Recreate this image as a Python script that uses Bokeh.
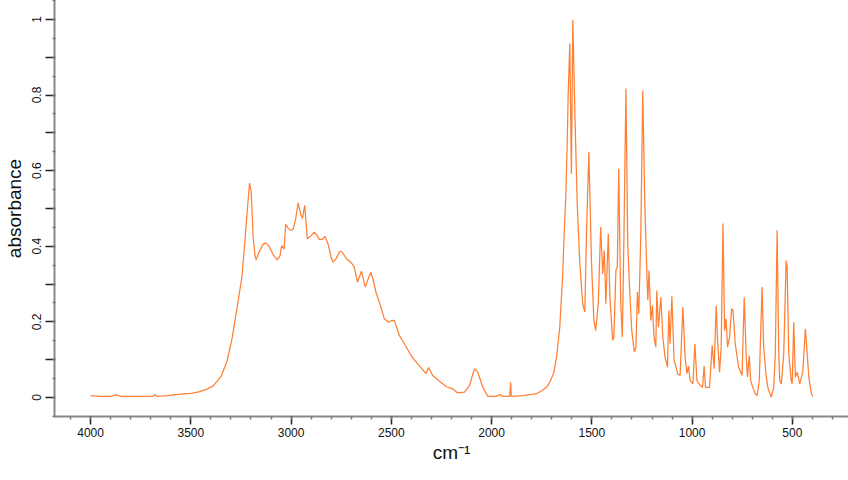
from bokeh.plotting import figure
from bokeh.models import Range1d, FixedTicker, ColumnDataSource
from bokeh.embed import file_html
from bokeh.resources import INLINE

wavenumber = [4000, 3950, 3900, 3870, 3850, 3750, 3690, 3680, 3670, 3620, 3560, 3500, 3460, 3420,
              3390, 3350, 3320, 3295, 3270, 3245, 3228, 3214, 3207, 3199, 3189, 3180, 3174, 3160,
              3140, 3127, 3110, 3090, 3069, 3055, 3047, 3035, 3027, 3015, 3002, 2990, 2978, 2965,
              2955, 2944, 2932, 2919, 2900, 2885, 2872, 2860, 2845, 2830, 2815, 2800, 2790, 2775,
              2757, 2744, 2724, 2702, 2685, 2669, 2649, 2630, 2615, 2602, 2590, 2577, 2552, 2535,
              2514, 2500, 2485, 2460, 2435, 2402, 2369, 2327, 2314, 2294, 2260, 2227, 2194, 2169,
              2135, 2110, 2095, 2085, 2069, 2044, 2019, 1977, 1960, 1944, 1910, 1905, 1902, 1844,
              1800, 1777, 1750, 1727, 1710, 1690, 1676, 1660, 1646, 1640, 1630, 1623, 1618, 1610,
              1602, 1595, 1585, 1573, 1560, 1546, 1535, 1526, 1515, 1502, 1490, 1481, 1468, 1456,
              1446, 1438, 1430, 1418, 1410, 1396, 1390, 1380, 1373, 1366, 1356, 1348, 1340, 1330,
              1321, 1313, 1301, 1288, 1280, 1273, 1266, 1256, 1246, 1236, 1226, 1221, 1215, 1206,
              1198, 1190, 1181, 1176, 1168, 1156, 1146, 1135, 1123, 1116, 1110, 1101, 1090, 1080,
              1073, 1060, 1046, 1035, 1026, 1018, 1010, 996, 986, 976, 960, 948, 940, 933, 913,
              900, 890, 880, 873, 863, 855, 846, 838, 831, 823, 813, 803, 796, 785, 768, 751, 740,
              730, 724, 715, 708, 701, 685, 676, 665, 651, 643, 631, 621, 605, 593, 585, 576, 568,
              563, 555, 543, 531, 526, 518, 506, 501, 493, 485, 476, 463, 448, 435, 426, 418, 405,
              398]
absorbance = [0.005, 0.003, 0.003, 0.007, 0.003, 0.003, 0.003, 0.008, 0.003, 0.005, 0.008, 0.011,
              0.015, 0.022, 0.030, 0.055, 0.095, 0.155, 0.235, 0.320, 0.430, 0.525, 0.567, 0.545,
              0.424, 0.375, 0.364, 0.385, 0.405, 0.409, 0.400, 0.378, 0.364, 0.375, 0.402, 0.392,
              0.458, 0.448, 0.442, 0.445, 0.470, 0.515, 0.490, 0.473, 0.508, 0.420, 0.428, 0.437,
              0.430, 0.418, 0.418, 0.426, 0.405, 0.370, 0.358, 0.368, 0.387, 0.384, 0.367, 0.358,
              0.345, 0.305, 0.334, 0.292, 0.315, 0.331, 0.310, 0.279, 0.239, 0.208, 0.199, 0.203,
              0.204, 0.164, 0.142, 0.111, 0.089, 0.063, 0.079, 0.058, 0.043, 0.029, 0.023, 0.012,
              0.014, 0.032, 0.060, 0.076, 0.067, 0.027, 0.003, 0.003, 0.008, 0.003, 0.003, 0.040,
              0.003, 0.005, 0.008, 0.010, 0.018, 0.027, 0.040, 0.065, 0.107, 0.186, 0.318, 0.407,
              0.530, 0.671, 0.803, 0.936, 0.592, 0.999, 0.759, 0.512, 0.354, 0.248, 0.226, 0.451,
              0.649, 0.362, 0.204, 0.177, 0.248, 0.451, 0.327, 0.389, 0.248, 0.433, 0.265, 0.151,
              0.160, 0.336, 0.345, 0.605, 0.248, 0.160, 0.424, 0.817, 0.407, 0.301, 0.177, 0.120,
              0.133, 0.279, 0.221, 0.424, 0.812, 0.512, 0.336, 0.257, 0.336, 0.204, 0.243, 0.160,
              0.133, 0.283, 0.186, 0.265, 0.160, 0.107, 0.080, 0.230, 0.142, 0.268, 0.100, 0.080,
              0.063, 0.058, 0.239, 0.107, 0.063, 0.083, 0.045, 0.036, 0.142, 0.045, 0.032, 0.027,
              0.083, 0.027, 0.027, 0.138, 0.076, 0.243, 0.151, 0.067, 0.133, 0.460, 0.177, 0.208,
              0.133, 0.160, 0.235, 0.230, 0.142, 0.080, 0.058, 0.265, 0.107, 0.054, 0.111, 0.045,
              0.032, 0.010, 0.005, 0.045, 0.292, 0.133, 0.058, 0.023, 0.001, 0.027, 0.116, 0.442,
              0.124, 0.045, 0.036, 0.116, 0.362, 0.345, 0.116, 0.045, 0.036, 0.199, 0.054, 0.067,
              0.036, 0.067, 0.182, 0.116, 0.054, 0.010, 0.003]

x_major = [4000, 3500, 3000, 2500, 2000, 1500, 1000, 500]
x_minor = list(range(200, 4300, 100))
y_major = [0.0, 0.1, 0.2, 0.3, 0.4, 0.5, 0.6, 0.7, 0.8, 0.9, 1.0]
y_labels = {0.0: "0", 0.2: "0.2", 0.4: "0.4", 0.6: "0.6", 0.8: "0.8", 1.0: "1"}
y_minor = [-0.05 + 0.05 * i for i in range(23)]

src = ColumnDataSource(dict(x=wavenumber, y=absorbance))

p = figure(width=848, height=480, output_backend="svg", toolbar_location=None,
           x_range=Range1d(4180, 220), y_range=Range1d(-0.0503, 1.050),
           min_border_left=54, min_border_right=0, min_border_top=0, min_border_bottom=64)
p.outline_line_color = None
p.xgrid.visible = False
p.ygrid.visible = False

p.line("x", "y", source=src, line_color="#ff6a10", line_width=1.25, line_alpha=0.85)

FONT = "Liberation Sans"
for ax in (p.xaxis[0], p.yaxis[0]):
    ax.axis_line_color = "#888888"
    ax.axis_line_width = 2
    ax.major_tick_line_color = "#222222"
    ax.major_tick_line_width = 1.5
    ax.minor_tick_line_color = "#777777"
    ax.minor_tick_line_width = 1.5
    ax.major_label_text_font = FONT
    ax.major_label_text_font_size = "12px"
    ax.major_label_text_color = "#111111"
    ax.axis_label_text_font = FONT
    ax.axis_label_text_font_size = "19px"
    ax.axis_label_text_font_style = "normal"
    ax.axis_label_text_color = "#111111"

xa = p.xaxis[0]
xa.ticker = FixedTicker(ticks=x_major, minor_ticks=x_minor)
xa.major_tick_out = 8
xa.major_tick_in = 0
xa.minor_tick_out = 3
xa.minor_tick_in = 0
xa.major_label_standoff = 3
xa.axis_label = "cm⁻¹"
xa.axis_label_standoff = 2

ya = p.yaxis[0]
ya.ticker = FixedTicker(ticks=y_major, minor_ticks=y_minor)
ya.major_label_overrides = {t: y_labels.get(round(t, 1), "") for t in y_major}
ya.major_label_orientation = "vertical"
ya.major_tick_out = 9
ya.major_tick_in = 0
ya.minor_tick_out = 2
ya.minor_tick_in = 1
ya.major_label_standoff = 4
ya.axis_label = "absorbance"
ya.axis_label_standoff = 5

open("out.html", "w").write(file_html(p, INLINE))
